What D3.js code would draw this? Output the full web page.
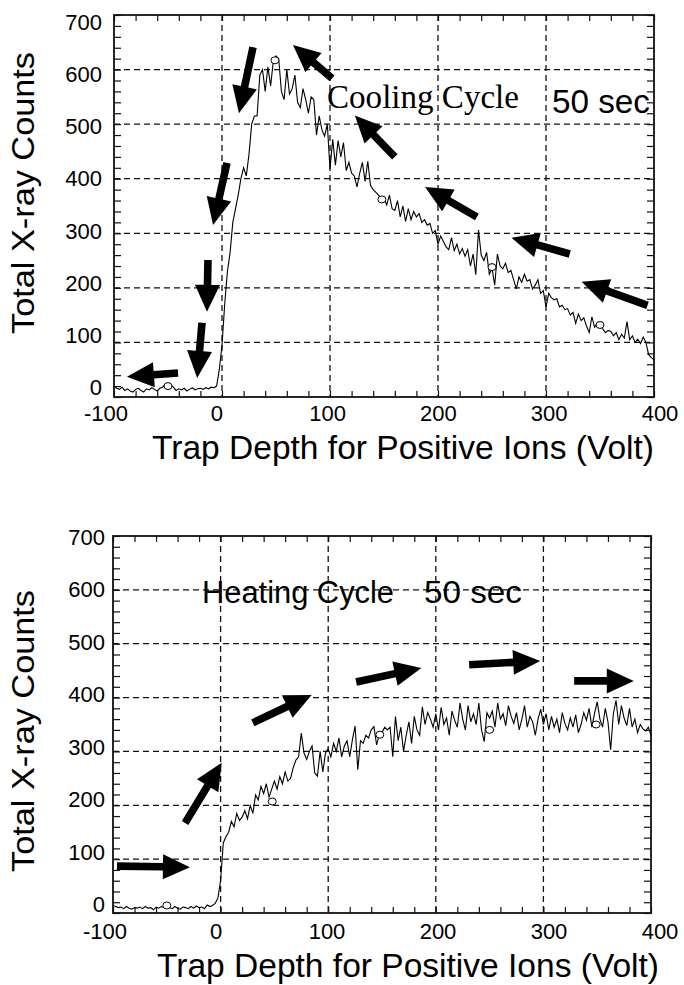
<!DOCTYPE html>
<html>
<head>
<meta charset="utf-8">
<script src="https://cdn.jsdelivr.net/npm/d3@7/dist/d3.min.js"></script>
<style>
  body { margin: 0; background: #fff; }
</style>
</head>
<body>
<div id="wrapper"></div>
<script>
// trap depth samples: every 2.5 V from -100 to 400
const voltStart = -100;
const voltStep = 2.5;

const coolingCounts = [
  20, 16, 14, 18, 12, 15, 11, 9, 14, 16,
  12, 9, 15, 13, 17, 14, 11, 16, 18, 24,
  25, 22, 18, 12, 15, 13, 16, 11, 14, 17,
  13, 15, 16, 14, 17, 15, 18, 17, 20, 50,
  95, 170, 230, 265, 320, 345, 370, 400, 420, 405,
  445, 500, 515, 515, 590, 600, 560, 605, 570, 615,
  625, 620, 560, 545, 600, 555, 565, 590, 540, 530,
  565, 545, 520, 550, 545, 480, 515, 490, 478, 500,
  418, 472, 425, 470, 440, 466, 415, 430, 410, 405,
  385, 410, 430, 395, 432, 388, 380, 375, 370, 362,
  365, 352, 370, 345, 342, 360, 330, 350, 322, 345,
  325, 340, 330, 336, 320, 325, 315, 318, 300, 305,
  280, 295, 285, 275, 270, 292, 268, 280, 262, 272,
  258, 270, 240, 262, 224, 306, 260, 250, 265, 225,
  236, 205, 262, 240, 235, 245, 228, 232, 215, 198,
  220, 210, 225, 212, 215, 198, 205, 215, 190, 195,
  165, 190, 182, 178, 180, 165, 168, 160, 162, 150,
  155, 135, 152, 140, 145, 130, 118, 147, 128, 135,
  132, 125, 118, 122, 120, 112, 118, 105, 115, 108,
  138, 105, 112, 100, 106, 98, 110, 100, 78, 72,
  68
];

const heatingCounts = [
  14, 12, 10, 11, 8, 12, 9, 7, 10, 9,
  11, 8, 12, 9, 10, 6, 11, 9, 12, 10,
  14, 10, 8, 12, 9, 7, 11, 10, 8, 12,
  9, 13, 10, 11, 8, 15, 12, 14, 18, 28,
  60, 130, 142, 150, 170, 160, 185, 172, 178, 190,
  175, 200, 185, 219, 210, 235, 222, 240, 215, 230,
  245, 230, 253, 240, 262, 245, 250, 270, 284, 290,
  334, 297, 285, 300, 310, 260, 254, 300, 262, 297,
  305, 290, 315, 300, 325, 290, 310, 320, 290, 322,
  347, 266, 320, 315, 330, 325, 340, 346, 312, 331,
  335, 345, 340, 345, 290, 365, 320, 345, 300, 330,
  355, 315, 365, 340, 330, 383, 350, 372, 360, 345,
  370, 340, 382, 350, 362, 330, 375, 358, 345, 390,
  360, 340, 385, 355, 370, 350, 390, 340, 318, 372,
  362, 375, 345, 390, 360, 370, 348, 385, 365, 352,
  372, 340, 360, 385, 345, 365, 355, 330, 360, 378,
  350, 370, 340, 365, 345, 360, 335, 372, 352, 340,
  362, 345, 368, 335, 350, 372, 358, 380, 345, 370,
  392, 360, 345, 380, 355, 303, 370, 395, 350, 385,
  362, 348, 380, 345, 360, 335, 350, 342, 338, 345,
  330
];

// small open calibration markers [volt, counts]
const coolingMarkers = [[-50, 20], [49, 617], [148, 362], [250, 238], [350, 132]];
const heatingMarkers = [[-50, 14], [48, 207], [148, 331], [250, 340], [349, 350]];

// arrows [tailVolt, tailCounts, tipVolt, tipCounts]
const coolingArrows = [
  [28.7, 641, 15.7, 520],
  [101.9, 584, 65.7, 645],
  [4.6, 429, -8.3, 315],
  [-13, 251, -13.9, 156],
  [-18.5, 136, -23, 35],
  [-40.7, 44, -88, 37],
  [160, 440, 123, 516],
  [236, 330, 188, 385],
  [322, 262, 268, 292],
  [394, 168, 333, 211]
];
const heatingArrows = [
  [-96.3, 87, -28.5, 85],
  [-33, 167, 1, 279],
  [29.9, 353, 84.6, 405],
  [126, 429, 186.6, 455],
  [231, 461, 297, 468],
  [328.6, 431, 384, 431]
];

const xTicks = [-100, 0, 100, 200, 300, 400];
const yTicks = [0, 100, 200, 300, 400, 500, 600, 700];
const xGrid = [0, 100, 200, 300];
const yGrid = [100, 200, 300, 400, 500, 600];

const width = 684;
const height = 985;

const svg = d3.select("#wrapper")
  .append("svg")
  .attr("width", width)
  .attr("height", height)
  .style("font-family", "'Liberation Sans', Arial, sans-serif");

function arrowPath(x1, y1, x2, y2) {
  const dx = x2 - x1, dy = y2 - y1;
  const len = Math.hypot(dx, dy);
  const ux = dx / len, uy = dy / len;
  const nx = -uy, ny = ux;
  const sw = 3.8, hl = 27, hw = 12.5;
  const bx = x2 - ux * hl, by = y2 - uy * hl;
  const pts = [
    [x1 + nx * sw, y1 + ny * sw],
    [bx + nx * sw, by + ny * sw],
    [bx + nx * hw, by + ny * hw],
    [x2, y2],
    [bx - nx * hw, by - ny * hw],
    [bx - nx * sw, by - ny * sw],
    [x1 - nx * sw, y1 - ny * sw]
  ];
  return "M" + pts.map(p => p.join(",")).join("L") + "Z";
}

function drawPanel(p) {
  const x = d3.scaleLinear().domain([-100, 400]).range([p.left, p.right]);
  const y = d3.scaleLinear().domain([0, 700]).range([p.bottom, p.top]);
  // tick labels in the original sit on a slightly wider spacing than the ticks
  const xLab = d3.scaleLinear().domain([-100, 400]).range(p.xLabelRange);
  const yLab = d3.scaleLinear().domain([0, 700]).range(p.yLabelRange);
  const g = svg.append("g");

  // dashed grid
  g.selectAll(".vg").data(xGrid).enter().append("line")
    .attr("x1", d => x(d)).attr("x2", d => x(d))
    .attr("y1", p.top).attr("y2", p.bottom)
    .attr("stroke", "#111").attr("stroke-width", 1.3)
    .attr("stroke-dasharray", "6,4");
  g.selectAll(".hg").data(yGrid).enter().append("line")
    .attr("x1", p.left).attr("x2", p.right)
    .attr("y1", d => y(d)).attr("y2", d => y(d))
    .attr("stroke", "#111").attr("stroke-width", 1.3)
    .attr("stroke-dasharray", "6,4");

  // inward minor ticks on all four sides
  const minorX = d3.range(-100, 401, 20);
  const minorY = d3.range(0, 701, 20);
  const tickStyle = sel => {
    sel.select(".domain").remove();
    sel.selectAll("line").attr("stroke", "#111").attr("stroke-width", 1.2);
  };
  g.append("g").attr("transform", `translate(0,${p.bottom})`)
    .call(d3.axisBottom(x).tickValues(minorX).tickSize(-6).tickFormat(""))
    .call(tickStyle);
  g.append("g").attr("transform", `translate(0,${p.top})`)
    .call(d3.axisTop(x).tickValues(minorX).tickSize(-6).tickFormat(""))
    .call(tickStyle);
  g.append("g").attr("transform", `translate(${p.left},0)`)
    .call(d3.axisLeft(y).tickValues(minorY).tickSize(-7).tickFormat(""))
    .call(tickStyle);
  g.append("g").attr("transform", `translate(${p.right},0)`)
    .call(d3.axisRight(y).tickValues(minorY).tickSize(-7).tickFormat(""))
    .call(tickStyle);

  // frame
  g.append("rect")
    .attr("x", p.left).attr("y", p.top)
    .attr("width", p.right - p.left).attr("height", p.bottom - p.top)
    .attr("fill", "none").attr("stroke", "#111").attr("stroke-width", 1.8);

  // tick labels
  g.selectAll(".xl").data(xTicks).enter().append("text")
    .attr("x", d => xLab(d)).attr("y", p.xLabelY)
    .attr("text-anchor", "middle")
    .attr("font-size", 22)
    .text(d => d);
  g.selectAll(".yl").data(yTicks).enter().append("text")
    .attr("x", p.yLabelX).attr("y", d => yLab(d))
    .attr("text-anchor", "end")
    .attr("font-size", 22)
    .text(d => d);

  // axis titles
  g.append("text")
    .attr("x", p.xTitleX).attr("y", p.xTitleY)
    .attr("text-anchor", "middle")
    .attr("font-size", 33)
    .attr("textLength", 502).attr("lengthAdjust", "spacingAndGlyphs")
    .text("Trap Depth for Positive Ions (Volt)");
  g.append("text")
    .attr("transform", `translate(${p.yTitleX},${p.yTitleY}) rotate(-90)`)
    .attr("text-anchor", "middle")
    .attr("font-size", 32)
    .attr("textLength", 282).attr("lengthAdjust", "spacingAndGlyphs")
    .text("Total X-ray Counts");

  // data curve
  const line = d3.line()
    .x((d, i) => x(voltStart + i * voltStep))
    .y(d => y(d))
    .curve(d3.curveLinear);
  g.append("path")
    .datum(p.counts)
    .attr("d", line)
    .attr("fill", "none")
    .attr("stroke", "#000")
    .attr("stroke-width", 1.1);

  g.selectAll(".mk").data(p.markers).enter().append("ellipse")
    .attr("cx", d => x(d[0])).attr("cy", d => y(d[1]))
    .attr("rx", 4).attr("ry", 3.5)
    .attr("fill", "#fff").attr("stroke", "#000").attr("stroke-width", 1);

  // arrows
  g.selectAll(".ar").data(p.arrows).enter().append("path")
    .attr("d", d => arrowPath(x(d[0]), y(d[1]), x(d[2]), y(d[3])))
    .attr("fill", "#000");

  return g;
}

const coolingPanel = drawPanel({
  counts: coolingCounts, markers: coolingMarkers, arrows: coolingArrows,
  left: 114, right: 654, top: 15, bottom: 397,
  xLabelY: 421, xLabelRange: [106, 660],
  yLabelX: 102, yLabelRange: [395, 30],
  xTitleX: 403, xTitleY: 459,
  yTitleX: 34, yTitleY: 193
});

coolingPanel.append("text")
  .attr("x", 327).attr("y", 108)
  .attr("font-family", "'Liberation Serif', 'Times New Roman', serif")
  .attr("font-size", 33)
  .attr("textLength", 192).attr("lengthAdjust", "spacingAndGlyphs")
  .text("Cooling Cycle");
coolingPanel.append("text")
  .attr("x", 552).attr("y", 113)
  .attr("font-size", 33)
  .attr("textLength", 98).attr("lengthAdjust", "spacingAndGlyphs")
  .text("50 sec");

const heatingPanel = drawPanel({
  counts: heatingCounts, markers: heatingMarkers, arrows: heatingArrows,
  left: 113, right: 651, top: 536, bottom: 913,
  xLabelY: 939, xLabelRange: [105, 660],
  yLabelX: 105, yLabelRange: [912, 545],
  xTitleX: 408, xTitleY: 977,
  yTitleX: 34, yTitleY: 731
});

heatingPanel.append("text")
  .attr("x", 202).attr("y", 603)
  .attr("font-size", 31)
  .attr("textLength", 192).attr("lengthAdjust", "spacingAndGlyphs")
  .text("Heating Cycle");
heatingPanel.append("text")
  .attr("x", 424).attr("y", 603)
  .attr("font-size", 32)
  .attr("textLength", 98).attr("lengthAdjust", "spacingAndGlyphs")
  .text("50 sec");
</script>
</body>
</html>
